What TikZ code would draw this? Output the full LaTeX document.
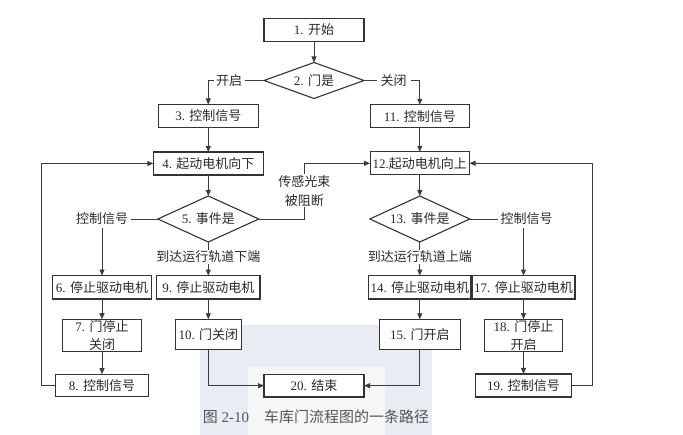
\documentclass[tikz,border=0pt]{standalone}
\usepackage{fontspec}
\setmainfont{Liberation Serif}
\newfontfamily\cjk{Noto Sans CJK SC}
\newcommand\zh[1]{{\cjk #1}}
\usetikzlibrary{shapes.geometric,arrows.meta}
\definecolor{bdr}{HTML}{333333}
\definecolor{lin}{HTML}{3C3C3C}
\definecolor{txt}{HTML}{2A2A2A}
\definecolor{captxt}{HTML}{555555}
\definecolor{wmA}{HTML}{E8ECF3}
\definecolor{wmB}{HTML}{F5F6F8}
\begin{document}
\begin{tikzpicture}[x=1pt,y=-1pt,
  every node/.style={font=\fontsize{13}{17.5}\selectfont, text=txt},
  box/.style={draw=bdr, fill=white, line width=1.1pt, inner sep=0pt, outer sep=0pt, minimum height=23pt, align=center},
  dia/.style={draw=bdr, fill=white, line width=1.1pt, diamond, inner sep=0pt, outer sep=0pt, minimum width=100pt},
  lbl/.style={inner sep=2.5pt, outer sep=0pt},
  conn/.style={draw=lin, line width=0.9pt},
  arr/.style={conn, -{Triangle[length=6pt,width=5pt]}}]
\useasboundingbox (0,0) rectangle (683,435);
% faint watermark
\fill[wmA] (200,325) rectangle (432,435);
\fill[wmB] (248,367) rectangle (385,435);

% nodes
\node[box, minimum width=100pt] (b1) at (314,29.7) {1. \zh{开始}};
\node[dia, minimum height=36pt, aspect=2.8] (d2) at (314,80.5) {2. \zh{门是}};
\node[box, minimum width=100pt] (b3) at (208.3,116) {3. \zh{控制信号}};
\node[box, minimum width=99pt] (b11) at (419.8,116.3) {11. \zh{控制信号}};
\node[box, minimum width=110pt] (b4) at (208.3,163.5) {4. \zh{起动电机向下}};
\node[box, minimum width=99.5pt] (b12) at (419.8,163.3) {12.\zh{起动电机向上}};
\node[dia, minimum width=101pt, minimum height=46pt, aspect=2.2] (d5) at (208.3,219) {5. \zh{事件是}};
\node[dia, minimum height=46pt, aspect=2.2] (d13) at (419.8,219) {13. \zh{事件是}};
\node[box, minimum width=98.5pt, minimum height=23.5pt] (b6) at (102,287.3) {6. \zh{停止驱动电机}};
\node[box, minimum width=103.3pt, minimum height=23.5pt] (b9) at (208.3,287.3) {9. \zh{停止驱动电机}};
\node[box, minimum width=102pt, minimum height=23.5pt] (b14) at (419.8,287.3) {14. \zh{停止驱动电机}};
\node[box, minimum width=103pt, minimum height=23.5pt] (b17) at (523.5,287.3) {17. \zh{停止驱动电机}};
\node[box, minimum width=78.5pt, minimum height=32.5pt] (b7) at (102,335.5) {7. \zh{门停止}\\\zh{关闭}};
\node[box, minimum width=65.5pt, minimum height=30pt] (b10) at (208.3,334.3) {10. \zh{门关闭}};
\node[box, minimum width=80.5pt, minimum height=30pt] (b15) at (419.8,334.3) {15. \zh{门开启}};
\node[box, minimum width=77.5pt, minimum height=32.5pt] (b18) at (523.5,335.5) {18. \zh{门停止}\\\zh{开启}};
\node[box, minimum width=93.5pt, minimum height=22.7pt] (b8) at (102,385.5) {8. \zh{控制信号}};
\node[box, minimum width=100pt, minimum height=22.7pt] (b20) at (314,385.7) {20. \zh{结束}};
\node[box, minimum width=96.7pt, minimum height=23pt] (b19) at (523.5,385.5) {19. \zh{控制信号}};

% labels
\node[lbl] (lk) at (229,80.5) {\zh{开启}};
\node[lbl, inner xsep=4pt] (lg) at (393.7,80.5) {\zh{关闭}};
\node[lbl, align=center, font=\fontsize{13}{18.6}\selectfont, inner ysep=1pt] (sl) at (304.3,190.8) {\zh{传感光束}\\\zh{被阻断}};
\node[lbl] (cl) at (102,219) {\zh{控制信号}};
\node[lbl] (cr) at (526.7,219) {\zh{控制信号}};
\node[lbl, inner sep=1pt] (ld) at (208.3,256.7) {\zh{到达运行轨道下端}};
\node[lbl, inner sep=1pt] (lu) at (419.8,256.7) {\zh{到达运行轨道上端}};
\node[font=\fontsize{15}{17}\selectfont, text=captxt] (cap) at (316,416.5) {\zh{图} 2-10\hspace{1em}\zh{车库门流程图的一条路径}};

\coordinate (lx) at (41,0);
\coordinate (rx) at (592.3,0);

% connectors
\draw[arr] (b1) -- (d2);
\draw[conn] (d2.west) -- (lk.east);
\draw[arr] (lk.west) -| (b3.north);
\draw[conn] (d2.east) -- (lg.west);
\draw[arr] (lg.east) -| (b11.north);
\draw[arr] (b3) -- (b4);
\draw[arr] (b11) -- (b12);
\draw[arr] (b4) -- (d5);
\draw[arr] (b12) -- (d13);
\draw[conn] (d5.east) -| (sl.south);
\draw[arr] (sl.north) |- (b12.west);
\draw[conn] (d5.west) -- (cl.east);
\draw[arr] (cl.south -| b6.north) -- (b6.north);
\draw[conn] (d13.east) -- (cr.west);
\draw[arr] (cr.south -| b17.north) -- (b17.north);
\draw[conn] (d5.south) -- (ld.north);
\draw[arr] (ld.south) -- (b9.north);
\draw[conn] (d13.south) -- (lu.north);
\draw[arr] (lu.south) -- (b14.north);
\draw[arr] (b6) -- (b7);
\draw[arr] (b7) -- (b8);
\draw[arr] (b9) -- (b10);
\draw[arr] (b14) -- (b15);
\draw[arr] (b17) -- (b18);
\draw[arr] (b18) -- (b19);
\draw[arr] (b10.south) |- (b20.west);
\draw[arr] (b15.south) |- (b20.east);
\draw[arr] (b8.west) -- (b8.west -| lx) |- (b4.west);
\draw[arr] (b19.east) -- (b19.east -| rx) |- (b12.east);
\end{tikzpicture}
\end{document}
